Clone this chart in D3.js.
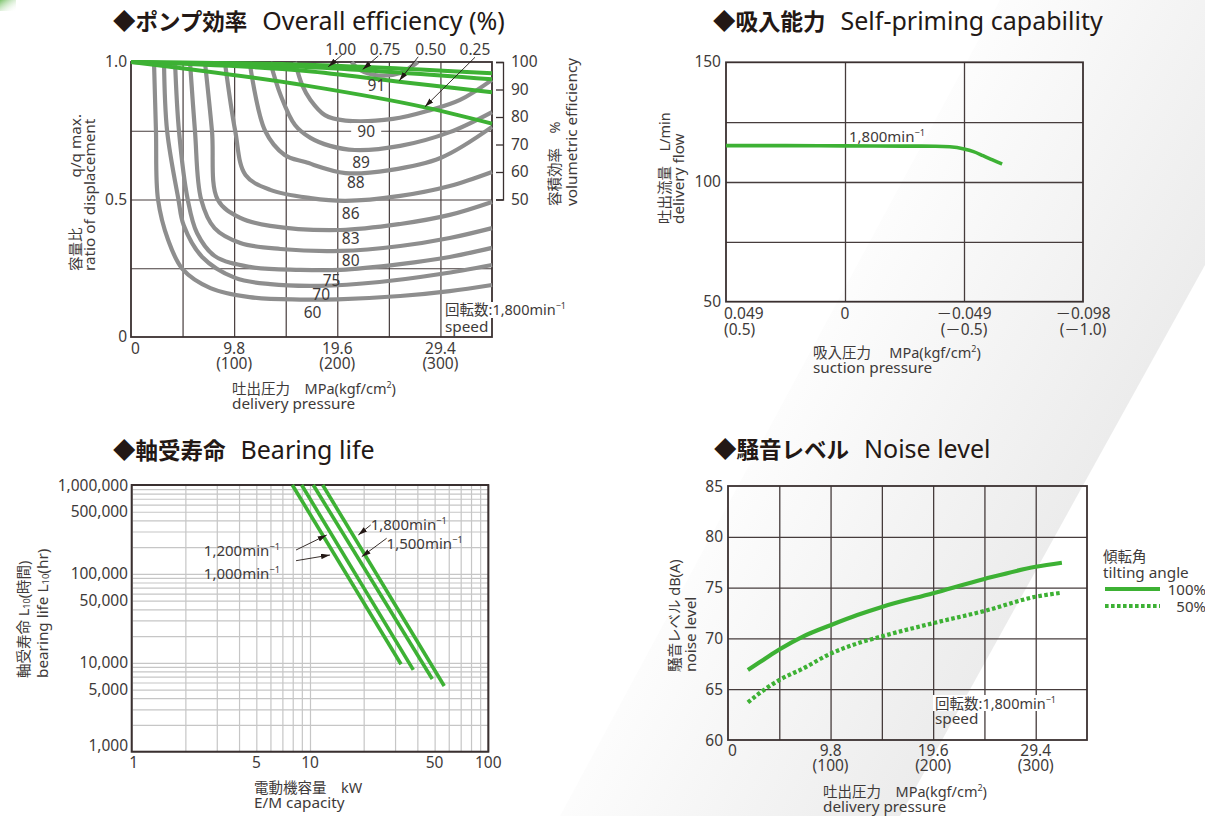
<!DOCTYPE html>
<html><head><meta charset="utf-8">
<script src="https://cdn.jsdelivr.net/npm/d3@7"></script>
<style>
body{margin:0;background:#fff;}
svg{display:block;font-family:"Noto Sans","Noto Sans CJK JP",sans-serif;}
</style></head><body>
<svg id="c" width="1205" height="816"></svg>
<script>
// ---------------- DATA ----------------
// Overall efficiency (x: delivery pressure kgf/cm2, y: displacement ratio)
const effPressureTicks = [0, 100, 200, 300];
const effPressureMPa = ["0", "9.8", "19.6", "29.4"];
const effPressureKgf = ["", "(100)", "(200)", "(300)"];
const effRatioTicks = [0, 0.5, 1.0];
const effRatioLabels = ["0", "0.5", "1.0"];
const volEffTicks = [50, 60, 70, 80, 90, 100];
const contour60 = [[22.3,1.0],[24.2,0.75],[26.2,0.5],[36,0.353],[50,0.247],[77,0.178],[115,0.145],[164,0.136],[200,0.137],[261,0.149],[309,0.167],[350,0.189]];
const contour70 = [[32,1.0],[35,0.75],[46,0.5],[51,0.407],[69,0.291],[101,0.215],[135,0.192],[183,0.186],[241,0.2],[300,0.229],[350,0.262]];
const contour75 = [[42.7,1.0],[46.5,0.75],[55,0.5],[64,0.378],[81,0.295],[115,0.255],[164,0.244],[203,0.244],[261,0.265],[309,0.291],[350,0.324]];
const contour80 = [[57.2,1.0],[62,0.75],[68,0.5],[81,0.396],[106,0.342],[145,0.32],[203,0.313],[261,0.331],[309,0.36],[350,0.396]];
const contour83 = [[71.7,1.0],[78.5,0.75],[84,0.5],[106,0.433],[135,0.404],[203,0.389],[261,0.411],[309,0.444],[350,0.491]];
const contour86 = [[91,1.0],[101,0.75],[111,0.589],[135,0.535],[174,0.505],[208,0.495],[261,0.513],[309,0.549],[350,0.6]];
const contour88 = [[115,1.0],[130,0.75],[149,0.662],[169,0.636],[208,0.596],[251,0.607],[300,0.651],[350,0.764]];
const contour89 = [[135,1.0],[145,0.88],[159,0.771],[174,0.724],[193,0.695],[217,0.68],[261,0.695],[309,0.745],[350,0.818]];
const contour90 = [[159,1.0],[166,0.916],[174,0.862],[188,0.807],[208,0.787],[254,0.793],[290,0.825],[319,0.862],[350,0.935]];
const contour91 = [[214,1.0],[222,0.971],[240,0.951],[261,0.96],[278,1.0]];
const contourLevels = ["60","70","75","80","83","86","88","89","90","91"];
const contourLabelPos = [[176,0.09],[184.4,0.155],[194.5,0.207],[213,0.28],[213,0.359],[213,0.45],[218,0.561],[223,0.634],[228,0.749],[238,0.916]];
// volumetric efficiency (%) lines for each displacement ratio
const ratioNames = ["1.00", "0.75", "0.50", "0.25"];
const volEff100 = [[0,100],[170,99.0],[350,95.9]];
const volEff075 = [[0,100],[170,98.2],[350,93.7]];
const volEff050 = [[0,100],[170,96.7],[260,92.8],[350,89.0]];
const volEff025 = [[0,100],[170,91.4],[285,83.5],[350,77.6]];
const ratioLabelPos = [[203.3,1.046],[246.3,1.046],[290.6,1.046],[333.5,1.046]];
const ratioArrowTail = [[204.3,1.025],[239.8,1.022],[278.5,1.019],[333.5,1.017]];
const ratioArrowTip = [[191.3,0.983],[224.6,0.973],[260.1,0.932],[285,0.8375]];

// Self-priming capability (x: suction pressure kgf/cm2, y: delivery flow L/min)
const suctionTicks = [0.5, 0, -0.5, -1.0];
const suctionMPa = ["0.049", "0", "－0.049", "－0.098"];
const suctionKgf = ["(0.5)", "", "(－0.5)", "(－1.0)"];
const flowTicks = [50, 100, 150];
const flowGrid = [75, 100, 125];
const suctionPressure = [0.5, 0.25, 0, -0.25, -0.38, -0.44, -0.5, -0.54, -0.58, -0.62, -0.66];
const deliveryFlow = [115.2, 115.2, 115.1, 115.0, 114.95, 114.7, 113.8, 112.7, 111.0, 109.2, 107.5];

// Bearing life (x: E/M capacity kW, y: L10 hours)
const lifeTicks = [1000, 5000, 10000, 50000, 100000, 500000, 1000000];
const capTicks = [1, 5, 10, 50, 100];
const bearingSpeeds = ["1,000", "1,200", "1,500", "1,800"];
const bearing1000 = [[7.96, 1000000], [32.4, 9620]];
const bearing1200 = [[8.98, 1000000], [37.96, 8320]];
const bearing1500 = [[10.43, 1000000], [48.5, 6570]];
const bearing1800 = [[11.78, 1000000], [56.6, 5480]];
const bearingLabelPos = [[6.79, 101500], [6.79, 185700], [26.9, 222600], [21.9, 361400]];
const bearingArrowTail = [[8.35, 140800], [8.35, 185700], [26.9, 251500], [21.9, 354900]];
const bearingArrowTip = [[12.95, 163200], [12.41, 273900], [19.5, 156200], [18.66, 273900]];

// Noise level (x: delivery pressure MPa, y: dB(A))
const noiseTicksMPa = [0, 9.8, 19.6, 29.4];
const noiseTickMPaLabels = ["0", "9.8", "19.6", "29.4"];
const noiseTickKgfLabels = ["", "(100)", "(200)", "(300)"];
const noiseLevelTicks = [60, 65, 70, 75, 80, 85];
const noisePressure100 = [1.9, 3.4, 4.9, 7.2, 9.8, 12.35, 14.7, 19.6, 24.5, 29.4, 31.9];
const noiseLevel100 = [66.9, 67.9, 68.9, 70.2, 71.3, 72.3, 73.1, 74.45, 75.85, 77.05, 77.45];
const noisePressure50 = [1.9, 3.0, 4.9, 7.2, 9.8, 12.35, 14.7, 19.6, 24.5, 29.4, 31.9];
const noiseLevel50 = [63.7, 64.6, 65.9, 67.05, 68.5, 69.5, 70.2, 71.5, 72.7, 74.1, 74.5];
const tiltLabels = ["100%", "50%"];

// ---------------- STYLE ----------------
const TXT = "#3e3a39", DARK = "#231815", GRID = "#463c3c", GREEN = "#3db134", GRAY = "#8e8e8e", LGRID = "#c6c6c6";
const LAT = 15.3; // size of latin-only caption lines
const svg = d3.select("#c");
const defs = svg.append("defs");

// background
svg.append("rect").attr("width", 1205).attr("height", 816).attr("fill", "#fff");
const bgG = defs.append("linearGradient").attr("id", "bgGrad").attr("gradientUnits", "userSpaceOnUse")
  .attr("x1", 744).attr("y1", 376).attr("x2", 1050).attr("y2", 545);
bgG.append("stop").attr("offset", 0).attr("stop-color", "#ffffff");
bgG.append("stop").attr("offset", 1).attr("stop-color", "#ececec");
svg.append("path").attr("d", "M1000,0L1205,0L1205,265L900,816L560,816Z").attr("fill", "url(#bgGrad)");
const gm = defs.append("linearGradient").attr("id", "gmark").attr("x1", 0).attr("y1", 0).attr("x2", 1).attr("y2", 1);
gm.append("stop").attr("offset", 0).attr("stop-color", "#7cc36b");
gm.append("stop").attr("offset", 1).attr("stop-color", "#ffffff").attr("stop-opacity", 0);
svg.append("rect").attr("x", 0).attr("y", 0).attr("width", 16).attr("height", 11).attr("fill", "url(#gmark)");

defs.append("marker").attr("id", "ah").attr("viewBox", "0 0 10 6").attr("refX", 10).attr("refY", 3)
  .attr("markerWidth", 9).attr("markerHeight", 5.5).attr("markerUnits", "userSpaceOnUse").attr("orient", "auto")
  .append("path").attr("d", "M0,0L10,3L0,6Z").attr("fill", DARK);

// rich text: parts are strings or {t, sup, sub, b, dx, nl(line height), size}
function rich(parent, x, y, parts, o = {}) {
  const size = o.size || 15;
  const t = parent.append("text").attr("x", x).attr("y", y).attr("font-size", size)
    .attr("fill", o.fill || TXT).attr("text-anchor", o.anchor || "start");
  let cur = 0;
  parts.forEach(p => {
    if (typeof p === "string") p = { t: p };
    const s = t.append("tspan").text(p.t);
    if (p.nl) {
      s.attr("x", x).attr("dy", p.nl - cur);
      cur = 0;
    } else {
      const off = p.sup ? -size * 0.38 : p.sub ? size * 0.06 : 0;
      if (off !== cur) s.attr("dy", off - cur);
      cur = off;
    }
    if (p.sup || p.sub) s.attr("font-size", (p.size || size) * 0.62);
    else if (p.size) s.attr("font-size", p.size);
    if (p.b) s.attr("font-weight", 700);
    if (p.dx) s.attr("dx", p.dx);
  });
  if (o.rotate) t.attr("transform", `rotate(${o.rotate},${x},${y})`);
  return t;
}
function title(x, y, jp, en) {
  rich(svg, x, y, [{ t: "◆" + jp, b: true }, { t: en, dx: 15, size: 25 }], { size: 22.5, fill: DARK });
}
function styleAxis(g, size) {
  g.attr("font-family", null).attr("font-size", size || 15);
  g.selectAll("text").attr("fill", TXT);
}
const minSup = [{ t: "min" }, { t: "−1", sup: true }];

// ================= Chart 1: Overall efficiency =================
const x1 = d3.scaleLinear().domain([0, 350]).range([131, 492]);
const y1 = d3.scaleLinear().domain([0, 1]).range([337, 62]);
const g1 = svg.append("g");
title(113, 30, "ポンプ効率", "Overall efficiency (%)");
g1.append("g").attr("transform", `translate(0,${y1(0)})`)
  .call(d3.axisBottom(x1).tickValues(d3.range(50, 350, 50)).tickSize(-(y1(0) - y1(1))).tickFormat(""))
  .call(g => { g.select(".domain").remove(); g.selectAll("line").attr("stroke", GRID).attr("stroke-width", 1.2); });
g1.append("g").attr("transform", `translate(${x1(0)},0)`)
  .call(d3.axisLeft(y1).tickValues([0.25, 0.5, 0.75]).tickSize(-(x1(350) - x1(0))).tickFormat(""))
  .call(g => { g.select(".domain").remove(); g.selectAll("line").attr("stroke", GRID).attr("stroke-width", 1.2); });
g1.append("rect").attr("x", x1(0)).attr("y", y1(1)).attr("width", x1(350) - x1(0)).attr("height", y1(0) - y1(1))
  .attr("fill", "none").attr("stroke", "#3a3030").attr("stroke-width", 1.8);
// right volumetric efficiency axis
const yv = d3.scaleLinear().domain([50, 100]).range([y1(0.5), y1(1.0)]);
g1.append("g").attr("transform", "translate(503,0)")
  .call(d3.axisRight(yv).tickValues(volEffTicks).tickSize(-7).tickPadding(8))
  .call(g => { styleAxis(g, 15.5); g.selectAll("line,path").attr("stroke", "#3a3030").attr("stroke-width", 1.3); });
// contours
const lineEff = d3.line().x(d => x1(d[0])).y(d => y1(d[1])).curve(d3.curveCatmullRom.alpha(0.5));
[contour60, contour70, contour75, contour80, contour83, contour86, contour88, contour89, contour90, contour91].forEach(c => {
  g1.append("path").attr("d", lineEff(c)).attr("fill", "none").attr("stroke", GRAY).attr("stroke-width", 4.2);
});
// volumetric lines
const lineVol = d3.line().x(d => x1(d[0])).y(d => yv(d[1])).curve(d3.curveMonotoneX);
[volEff100, volEff075, volEff050, volEff025].forEach(c => {
  g1.append("path").attr("d", lineVol(c)).attr("fill", "none").attr("stroke", GREEN).attr("stroke-width", 4);
});
// contour labels
contourLevels.forEach((lv, i) => {
  const [p, r] = contourLabelPos[i];
  if (lv === "90") g1.append("rect").attr("x", x1(p) - 15).attr("y", y1(r) - 8).attr("width", 30).attr("height", 16).attr("fill", "#fff");
  rich(g1, x1(p), y1(r) + 5.5, [lv], { anchor: "middle", size: 15.5 });
});
// ratio labels + arrows
ratioNames.forEach((n, i) => {
  rich(g1, x1(ratioLabelPos[i][0]), y1(ratioLabelPos[i][1]) + 5.5, [n], { anchor: "middle", size: 15.5 });
  g1.append("line").attr("x1", x1(ratioArrowTail[i][0])).attr("y1", y1(ratioArrowTail[i][1]))
    .attr("x2", x1(ratioArrowTip[i][0])).attr("y2", y1(ratioArrowTip[i][1]))
    .attr("stroke", DARK).attr("stroke-width", 0.9).attr("marker-end", "url(#ah)");
});
// axis labels
effRatioTicks.forEach((v, i) => rich(g1, x1(0) - 4, y1(v) + 5, [effRatioLabels[i]], { anchor: "end", size: 15.5 }));
effPressureTicks.forEach((v, i) => {
  const parts = [effPressureMPa[i]];
  if (effPressureKgf[i]) parts.push({ t: effPressureKgf[i], nl: 14.5 });
  rich(g1, x1(v), 354, parts, { anchor: i === 0 ? "start" : "middle", size: 15.5 });
});
g1.append("rect").attr("x", 443).attr("y", 302).attr("width", 126).attr("height", 16).attr("fill", "#fff");
rich(g1, 445, 315, [{ t: "回転数:1,800" }, ...minSup, { t: "speed", nl: 16.5, size: LAT }], { size: 14.5 });
rich(g1, 232, 394, ["吐出圧力　MPa(kgf/cm", { t: "2", sup: true }, ")", { t: "delivery pressure", nl: 15, size: LAT }], { size: 14.5 });
rich(g1, 81, 271, ["容量比", { t: "q/q max.", dx: 50, size: LAT }, { t: "ratio of displacement", nl: 14, size: LAT }], { size: 14.5, rotate: -90 });
rich(g1, 560, 206, ["容積効率　%", { t: "volumetric efficiency", nl: 17, size: LAT }], { size: 14.5, rotate: -90 });

// ================= Chart 2: Self-priming =================
const x2 = d3.scaleLinear().domain([0.5, -1.0]).range([726, 1083]);
const y2 = d3.scaleLinear().domain([50, 150]).range([301.7, 62.3]);
const g2 = svg.append("g");
title(713, 30, "吸入能力", "Self-priming capability");
g2.append("g").attr("transform", `translate(0,${y2(50)})`)
  .call(d3.axisBottom(x2).tickValues([0, -0.5]).tickSize(-(y2(50) - y2(150))).tickFormat(""))
  .call(g => { g.select(".domain").remove(); g.selectAll("line").attr("stroke", GRID).attr("stroke-width", 1.3); });
g2.append("g").attr("transform", `translate(${x2(0.5)},0)`)
  .call(d3.axisLeft(y2).tickValues(flowGrid).tickSize(-(x2(-1) - x2(0.5))).tickFormat(""))
  .call(g => { g.select(".domain").remove(); g.selectAll("line").attr("stroke", GRID).attr("stroke-width", 1.3); });
g2.append("rect").attr("x", x2(0.5)).attr("y", y2(150)).attr("width", x2(-1) - x2(0.5)).attr("height", y2(50) - y2(150))
  .attr("fill", "none").attr("stroke", "#3a3030").attr("stroke-width", 1.8);
const lineSuc = d3.line().x((d, i) => x2(suctionPressure[i])).y(d => y2(d)).curve(d3.curveMonotoneX);
g2.append("path").attr("d", lineSuc(deliveryFlow)).attr("fill", "none").attr("stroke", GREEN).attr("stroke-width", 3.6);
rich(g2, 849, 142, [{ t: "1,800" }, ...minSup], { size: 15 });
flowTicks.forEach(v => rich(g2, 721, y2(v) + 5, [String(v)], { anchor: "end", size: 15.5 }));
suctionTicks.forEach((v, i) => {
  const parts = [suctionMPa[i]];
  if (suctionKgf[i]) parts.push({ t: suctionKgf[i], nl: 16 });
  rich(g2, i === 0 ? x2(v) - 2 : x2(v), 318.5, parts, { anchor: i === 0 ? "start" : "middle", size: 15.5 });
});
rich(g2, 813, 358, ["吸入圧力　 MPa(kgf/cm", { t: "2", sup: true }, ")", { t: "suction pressure", nl: 15, size: LAT }], { size: 14.5 });
rich(g2, 670, 224, ["吐出流量　L/min", { t: "delivery flow", nl: 14, size: LAT }], { size: 14.5, rotate: -90 });

// ================= Chart 3: Bearing life =================
const x3 = d3.scaleLog().domain([1, 100]).range([131.7, 488.3]);
const y3 = d3.scaleLog().domain([1000, 1000000]).range([751.7, 485]);
const g3 = svg.append("g");
title(113, 459, "軸受寿命", "Bearing life");
g3.append("g").attr("transform", `translate(0,${y3(1000)})`)
  .call(d3.axisBottom(x3).tickValues(x3.ticks()).tickSize(-(y3(1000) - y3(1e6))).tickFormat(""))
  .call(g => { g.select(".domain").remove(); g.selectAll("line").attr("stroke", LGRID).attr("stroke-width", 1.2); });
g3.append("g").attr("transform", `translate(${x3(1)},0)`)
  .call(d3.axisLeft(y3).tickValues(y3.ticks()).tickSize(-(x3(100) - x3(1))).tickFormat(""))
  .call(g => { g.select(".domain").remove(); g.selectAll("line").attr("stroke", LGRID).attr("stroke-width", 1.2); });
g3.append("rect").attr("x", x3(1)).attr("y", y3(1e6)).attr("width", x3(100) - x3(1)).attr("height", y3(1000) - y3(1e6))
  .attr("fill", "none").attr("stroke", "#3a3030").attr("stroke-width", 2);
const lineB = d3.line().x(d => x3(d[0])).y(d => y3(d[1]));
[bearing1000, bearing1200, bearing1500, bearing1800].forEach(c => {
  g3.append("path").attr("d", lineB(c)).attr("fill", "none").attr("stroke", GREEN).attr("stroke-width", 3.6);
});
bearingSpeeds.forEach((s, i) => {
  const [k, h] = bearingLabelPos[i];
  rich(g3, x3(k), y3(h) + 5.5, [{ t: s }, ...minSup], { anchor: i < 2 ? "end" : "start", size: 15 });
  g3.append("line").attr("x1", x3(bearingArrowTail[i][0])).attr("y1", y3(bearingArrowTail[i][1]))
    .attr("x2", x3(bearingArrowTip[i][0])).attr("y2", y3(bearingArrowTip[i][1]))
    .attr("stroke", DARK).attr("stroke-width", 0.9).attr("marker-end", "url(#ah)");
});
const fmtC = d3.format(",");
lifeTicks.forEach(v => rich(g3, 128, y3(v) + (v === 1000 ? -0.5 : 5.5), [fmtC(v)], { anchor: "end", size: 15.5 }));
capTicks.forEach(v => rich(g3, x3(v) + (v === 1 ? 2 : 0), 767.5, [String(v)], { anchor: "middle", size: 15.5 }));
rich(g3, 254, 793, ["電動機容量　kW", { t: "E/M capacity", nl: 14.5, size: LAT }], { size: 14.5 });
rich(g3, 29, 678, ["軸受寿命 L", { t: "10", sub: true }, "(時間)", { t: "bearing life L", nl: 19, size: LAT }, { t: "10", sub: true, size: LAT }, { t: "(hr)", size: LAT }], { size: 14.5, rotate: -90 });

// ================= Chart 4: Noise level =================
const x4 = d3.scaleLinear().domain([0, 34.3]).range([728, 1087]);
const y4 = d3.scaleLinear().domain([60, 85]).range([740, 486]);
const g4 = svg.append("g");
title(714, 458, "騒音レベル", "Noise level");
g4.append("g").attr("transform", `translate(0,${y4(60)})`)
  .call(d3.axisBottom(x4).tickValues(d3.range(1, 7).map(k => k * 4.9)).tickSize(-(y4(60) - y4(85))).tickFormat(""))
  .call(g => { g.select(".domain").remove(); g.selectAll("line").attr("stroke", GRID).attr("stroke-width", 1.3); });
g4.append("g").attr("transform", `translate(${x4(0)},0)`)
  .call(d3.axisLeft(y4).tickValues([65, 70, 75, 80]).tickSize(-(x4(34.3) - x4(0))).tickFormat(""))
  .call(g => { g.select(".domain").remove(); g.selectAll("line").attr("stroke", GRID).attr("stroke-width", 1.3); });
g4.append("rect").attr("x", x4(0)).attr("y", y4(85)).attr("width", x4(34.3) - x4(0)).attr("height", y4(60) - y4(85))
  .attr("fill", "none").attr("stroke", "#3a3030").attr("stroke-width", 1.8);
const lineN100 = d3.line().x((d, i) => x4(noisePressure100[i])).y(d => y4(d)).curve(d3.curveMonotoneX);
const lineN50 = d3.line().x((d, i) => x4(noisePressure50[i])).y(d => y4(d)).curve(d3.curveMonotoneX);
g4.append("path").attr("d", lineN100(noiseLevel100)).attr("fill", "none").attr("stroke", GREEN).attr("stroke-width", 4.2);
g4.append("path").attr("d", lineN50(noiseLevel50)).attr("fill", "none").attr("stroke", GREEN).attr("stroke-width", 4.2).attr("stroke-dasharray", "3.6,2.4");
g4.append("rect").attr("x", 933).attr("y", 695).attr("width", 130).attr("height", 16).attr("fill", "#fff");
rich(g4, 935, 708.5, [{ t: "回転数:1,800" }, ...minSup, { t: "speed", nl: 15.5, size: LAT }], { size: 14.5 });
noiseLevelTicks.forEach(v => rich(g4, 723, y4(v) + 5.5, [String(v)], { anchor: "end", size: 15.5 }));
noiseTicksMPa.forEach((v, i) => {
  const parts = [noiseTickMPaLabels[i]];
  if (noiseTickKgfLabels[i]) parts.push({ t: noiseTickKgfLabels[i], nl: 15.5 });
  rich(g4, x4(v), 755.5, parts, { anchor: i === 0 ? "start" : "middle", size: 15.5 });
});
rich(g4, 823, 797, ["吐出圧力　MPa(kgf/cm", { t: "2", sup: true }, ")", { t: "delivery pressure", nl: 15, size: LAT }], { size: 14.5 });
rich(g4, 679.5, 672, ["騒音レベル dB(A)", { t: "noise level", nl: 16, size: LAT }], { size: 14.5, rotate: -90 });
// legend
rich(g4, 1103, 562, ["傾転角", { t: "tilting angle", nl: 16, size: LAT }], { size: 14.5 });
g4.append("line").attr("x1", 1105).attr("x2", 1160).attr("y1", 589).attr("y2", 589).attr("stroke", GREEN).attr("stroke-width", 4.2);
g4.append("line").attr("x1", 1105).attr("x2", 1160).attr("y1", 606).attr("y2", 606).attr("stroke", GREEN).attr("stroke-width", 4.2).attr("stroke-dasharray", "3.6,2.4");
rich(g4, 1206, 594.5, [tiltLabels[0]], { anchor: "end", size: 15 });
rich(g4, 1206, 611.5, [tiltLabels[1]], { anchor: "end", size: 15 });
</script>
</body></html>
